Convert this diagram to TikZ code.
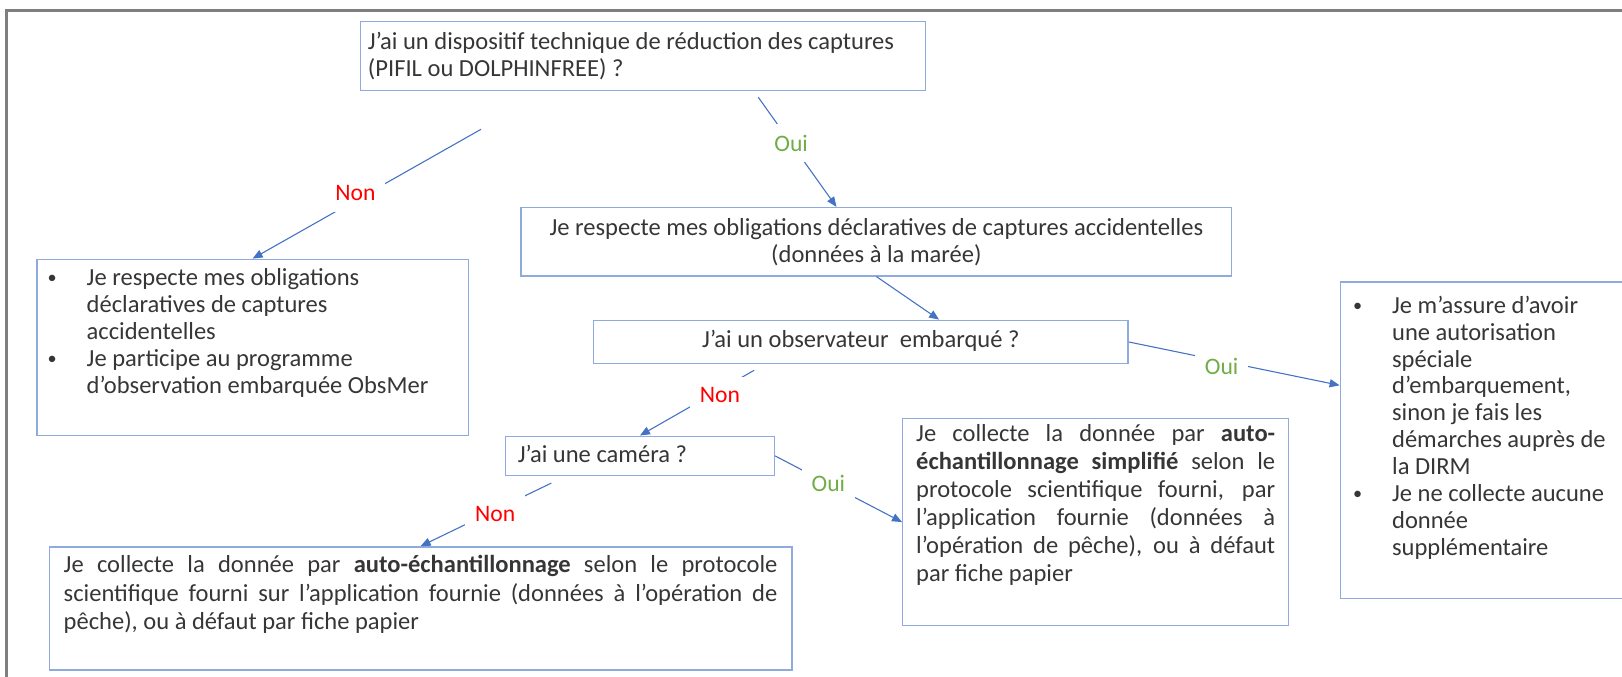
\documentclass[tikz,border=0pt]{standalone}
\usepackage{fontspec}
\setmainfont{Carlito}
\usepackage{tikz}
\usetikzlibrary{arrows.meta}
\usetikzlibrary{calc}

\definecolor{cadrebleu}{HTML}{8FAADC}
\definecolor{traitbleu}{HTML}{4472C4}
\definecolor{rouge}{HTML}{FF0000}
\definecolor{vert}{HTML}{70AD47}
\definecolor{texte}{HTML}{363636}
\definecolor{gris}{HTML}{7F7F7F}

\newlength{\upx}
\setlength{\upx}{0.02cm}
\newcommand{\boite}[4][\raggedright]{\parbox[t][#3\upx][t]{#2\upx}{#1#4}}
\newcommand{\puce}{\par\noindent\hangindent=20pt\hangafter=1%
  \makebox[20pt][l]{\hspace{-1.5pt}\raisebox{1pt}{\fontsize{10}{10}\selectfont\textbullet}}\strut}
\newcommand{\justif}{\tolerance=10000\hyphenpenalty=10000}

\begin{document}
\begin{tikzpicture}
  [x=0.02cm, y=-0.02cm,
    boite/.style={draw=cadrebleu, line width=0.8pt, anchor=north west, text=texte,
      font=\fontsize{13.5}{14.8}\selectfont},
    fleche/.style={draw=traitbleu, line width=0.6pt, -{Triangle[length=5.5pt,width=4.5pt]}},
    non/.style={text=rouge, fill=white, inner xsep=5.5pt, inner ysep=6pt,
      font=\fontsize{13}{14}\selectfont},
    oui/.style={non, text=vert}]
  \useasboundingbox (0,0) rectangle (1568,654.4);
  \draw[draw=gris, line width=1.7pt] (6,654.4) -- (6,10) -- (1568,10);

  \node[boite, inner xsep=4pt, inner ysep=5.1pt] (disp) at (348,20)
    {\boite{532}{49}{\strut J’ai un dispositif technique de réduction des captures\newline(PIFIL ou DOLPHINFREE) ?}};
  \node[boite, inner xsep=5.1pt, inner ysep=5.1pt] (oblig) at (503,200)
    {\boite[\centering]{669}{48}{\strut Je respecte mes obligations déclaratives de captures accidentelles\\(données à la marée)}};
  \node[boite, inner xsep=7.4pt, inner ysep=4pt] (obsmer) at (35,250)
    {\boite{391}{156}{\puce Je respecte mes obligations\newline déclaratives de captures\newline accidentelles
      \puce Je participe au programme\newline d’observation embarquée ObsMer}};
  \node[boite, inner xsep=5.1pt, inner ysep=4.5pt] (observ) at (573,309)
    {\boite[\centering]{499}{26}{\strut J’ai un observateur~ embarqué ?}};
  \node[boite, inner xsep=8.5pt, inner ysep=6.8pt] (autoris) at (1295,272)
    {\boite{293}{282}{\puce Je m’assure d’avoir\newline une autorisation\newline spéciale\newline d’embarquement,\newline sinon je fais les\newline démarches auprès de\newline la DIRM
      \puce Je ne collecte aucune\newline donnée\newline supplémentaire}};
  \node[boite, inner xsep=6.8pt, inner ysep=4pt] (camera) at (488,421)
    {\boite{236}{24}{\strut J’ai une caméra ?}};
  \node[boite, inner xsep=7.4pt, inner ysep=1.7pt, font=\fontsize{13.5}{15.4}\selectfont] (simplif) at (872,404)
    {\boite[\justif]{347}{194}{\strut Je collecte la donnée par \textbf{auto-}\linebreak
      \textbf{échantillonnage simplifié} selon le\linebreak
      protocole scientifique fourni, par\linebreak
      l’application fournie (données à\linebreak
      l’opération de pêche), ou à défaut\linebreak
      par fiche papier}};
  \node[boite, inner xsep=7.9pt, inner ysep=3.4pt, font=\fontsize{13.5}{15.6}\selectfont] (autoech) at (47,528)
    {\boite[\justif]{690}{107}{\strut Je collecte la donnée par \textbf{auto-échantillonnage} selon le protocole\linebreak
      scientifique fourni sur l’application fournie (données à l’opération de\linebreak
      pêche), ou à défaut par fiche papier}};

  \coordinate (dnon1) at (465,125);
  \coordinate (doui1) at (733,94);
  \coordinate (dnon2) at (729,358);
  \coordinate (dnon3) at (533,467);
  \draw[fleche] (dnon1) -- node[non, pos=0.55, yshift=4pt] {Non} (obsmer.north);
  \draw[fleche] (doui1) -- node[oui, pos=0.42] {Oui} ($(oblig.north west)!0.444!(oblig.north east)$);
  \draw[fleche] (oblig.south) -- ($(observ.north west)!0.646!(observ.north east)$);
  \draw[fleche] (observ.east) -- node[oui, pos=0.44, yshift=-3pt] {Oui} ($(autoris.north west)!0.327!(autoris.south west)$);
  \draw[fleche] (dnon2) -- node[non, pos=0.3, yshift=-3pt] {Non} (camera.north);
  \draw[fleche] (camera.east) -- node[oui, pos=0.42] {Oui} (simplif.west);
  \draw[fleche] (dnon3) -- node[non, pos=0.43, yshift=-2pt] {Non} (autoech.north);
\end{tikzpicture}
\end{document}
